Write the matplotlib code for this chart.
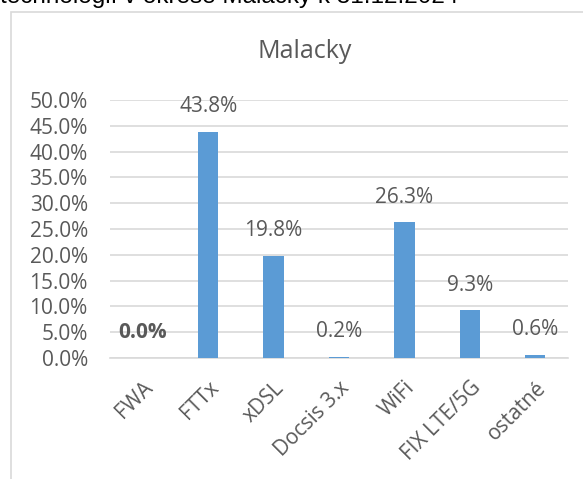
import matplotlib
matplotlib.use("Agg")
import matplotlib.pyplot as plt
from matplotlib.patches import Rectangle
import numpy as np

categories = ["FWA", "FTTx", "xDSL", "Docsis 3.x", "WiFi", "FIX LTE/5G", "ostatné"]
values = [0.0, 43.8, 19.8, 0.2, 26.3, 9.3, 0.6]
yticks = [0, 5, 10, 15, 20, 25, 30, 35, 40, 45, 50]

FONT = "Open Sans"
TXT = "#595959"
GRID = "#d9d9d9"
BAR = "#5B9BD5"
FS = 15

W, H = 583, 479
fig = plt.figure(figsize=(W / 100, H / 100), dpi=100)

# outer chart frame (partially outside the image)
fig.patches.append(Rectangle((10.5 / W, -0.1), 2.0, (H - 12.5) / H + 0.1,
                             transform=fig.transFigure, fill=False,
                             edgecolor=GRID, linewidth=1.2))

# cut-off heading above the chart
fig.text(0 / W, 1 - 3.5 / H, "technológií v okrese Malacky k 31.12.2024",
         fontsize=17.5, family="Liberation Sans", color="black",
         ha="left", va="baseline")

ax = fig.add_axes([110 / W, 1 - 358 / H, (568 - 110) / W, (358 - 100) / H])
x = np.arange(len(categories))
ax.bar(x, values, width=0.31, color=BAR, zorder=3)
ax.set_xlim(-0.5, len(categories) - 0.5)
ax.set_ylim(0, 50)
ax.set_yticks(yticks)
ax.set_yticklabels([f"{v:.1f}%" for v in yticks], fontsize=FS, family=FONT, color=TXT)
ax.set_xticks(x)
ax.set_xticklabels(categories, rotation=45, ha="right", va="top",
                   rotation_mode="anchor", fontsize=FS, family=FONT, color=TXT)
ax.tick_params(axis="both", length=0)
ax.tick_params(axis="y", pad=16)
ax.tick_params(axis="x", pad=14)
ax.grid(axis="y", color=GRID, linewidth=1.2, zorder=0)
for s in ["top", "right", "left"]:
    ax.spines[s].set_visible(False)
ax.spines["bottom"].set_color(GRID)
ax.spines["bottom"].set_linewidth(1.2)
ax.set_facecolor("none")

for i, v in enumerate(values):
    ax.annotate(f"{v:.1f}%", (x[i], v), xytext=(0, 18), textcoords="offset points",
                ha="center", va="center", fontsize=FS, family=FONT, color=TXT,
                fontweight="bold" if v == 0 else "normal", zorder=4)

fig.text(305 / W, 1 - 51 / H, "Malacky", fontsize=18, family=FONT, color=TXT,
         ha="center", va="center")

fig.savefig("out.png", dpi=100)
